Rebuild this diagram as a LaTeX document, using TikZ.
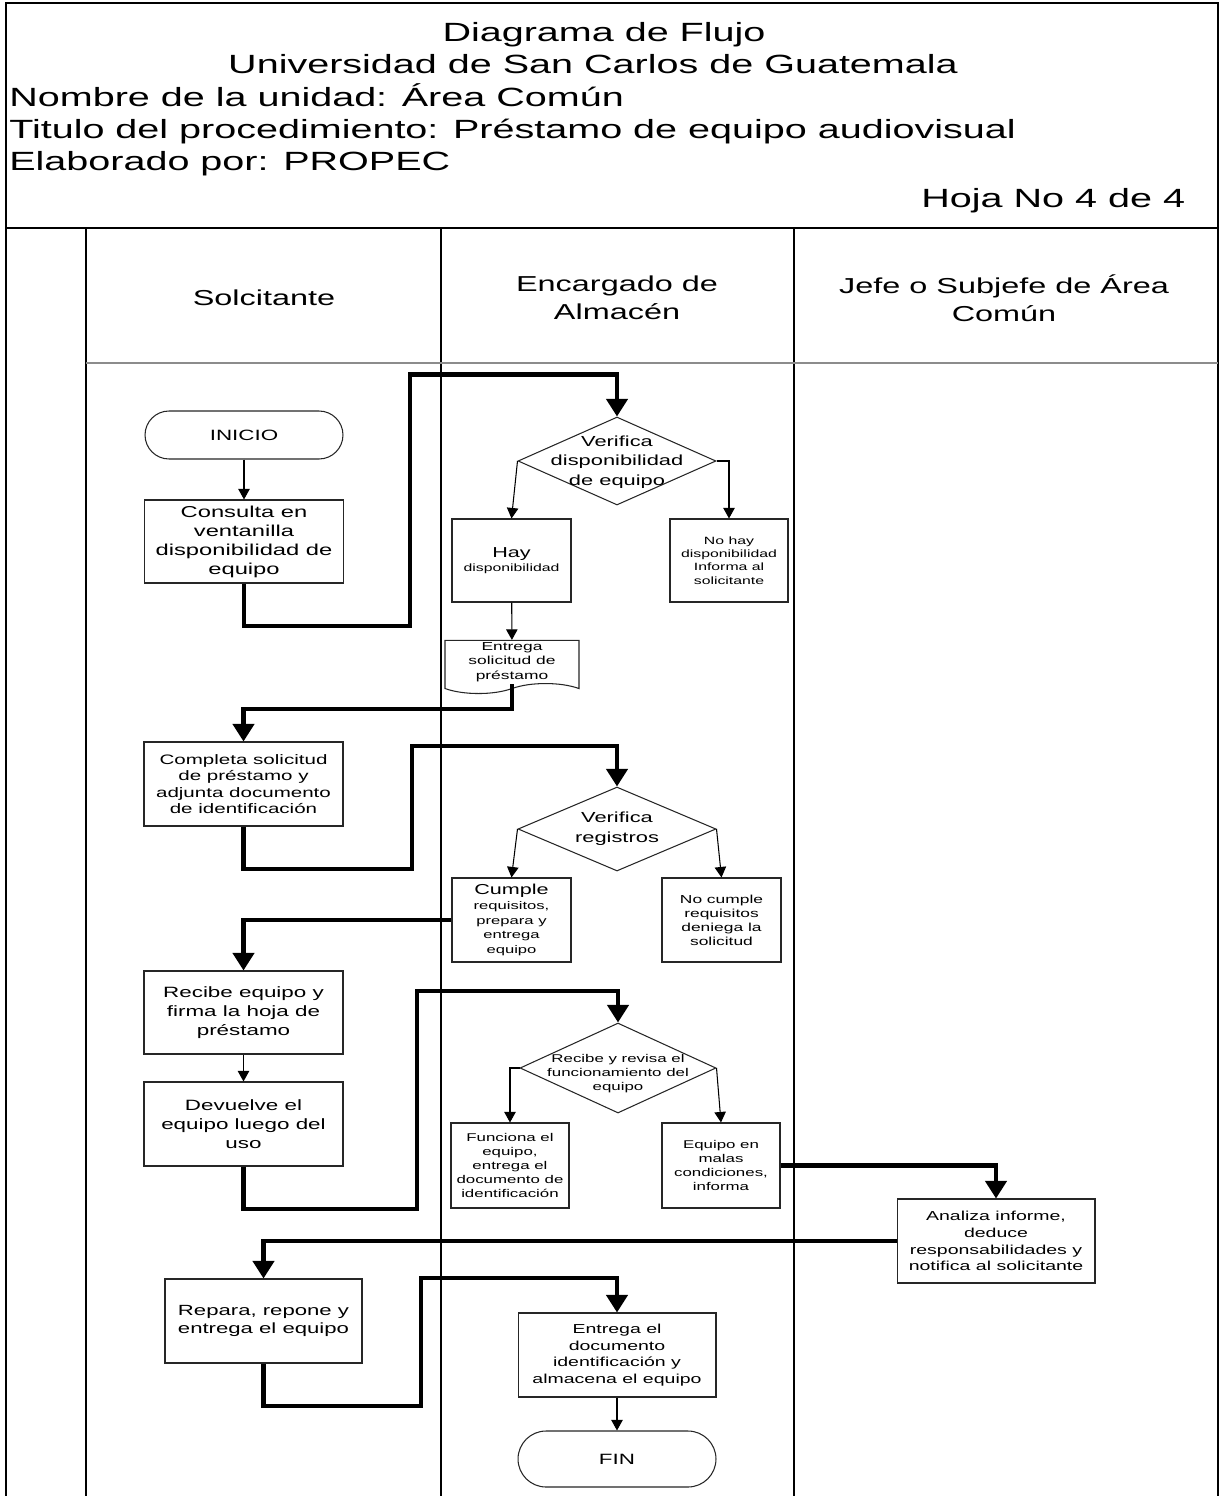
\documentclass[tikz,border=0pt]{standalone}
\usepackage{fontspec}
\setmainfont{Liberation Sans}[FakeStretch=1.5]
\usepackage{tikz}
\usetikzlibrary{shapes.geometric, shapes.symbols, arrows.meta}
\newcommand{\setfs}[2]{\fontsize{#1}{#2}\selectfont}
\tikzstyle{procbox} = [rectangle, draw=black!85, line width=0.6pt, fill=white,
                       align=center, inner sep=1pt]
\tikzstyle{decision} = [diamond, draw=black!85, line width=0.6pt, fill=white, inner sep=0pt]
\tikzstyle{terminal} = [rectangle, draw=black!85, line width=0.6pt, fill=white, align=center]
\tikzstyle{docnode} = [tape, tape bend top=none, tape bend bottom=in and out,
                       tape bend height=0.2cm, draw=black!85, line width=0.6pt,
                       fill=white, align=center, inner sep=1pt]
\tikzstyle{thickflow} = [line width=2.3pt, -{Triangle[length=10pt, width=12pt]}]
\tikzstyle{thinflow} = [line width=0.6pt, -{Triangle[length=6pt, width=6.5pt]}]
\tikzstyle{lane} = [line width=0.9pt]

\begin{document}
\begin{tikzpicture}[x=0.02cm, y=-0.02cm]
  \useasboundingbox (0,0) rectangle (1220,1496);
  % frame and swimlanes
  \draw [lane] (6,1496) -- (6,3) -- (1218,3) -- (1218,1496);
  \draw [lane] (6,228) -- (1218,228);
  \draw [lane] (86,228) -- (86,1496);
  \draw [lane] (441,228) -- (441,1496);
  \draw [lane] (794,228) -- (794,1496);
  \draw [line width=1.2pt, black!45] (86,363) -- (1218,363);

  % header
  \node (title) [anchor=base, font=\setfs{15}{18}] at (604,42) {Diagrama de Flujo};
  \node (univ) [anchor=base, font=\setfs{15}{18}] at (593,74) {Universidad de San Carlos de Guatemala};
  \node (unidad) [anchor=base west, inner sep=0pt, font=\setfs{15}{18}] at (9,107) {Nombre de la unidad: Área Común};
  \node (proc) [anchor=base west, inner sep=0pt, font=\setfs{15}{18}] at (9,139) {Titulo del procedimiento: Préstamo de equipo audiovisual};
  \node (autor) [anchor=base west, inner sep=0pt, font=\setfs{15}{18}] at (9,171) {Elaborado por: PROPEC};
  \node (hoja) [anchor=base west, inner sep=0pt, font=\setfs{15}{18}] at (921,208) {Hoja No 4 de 4};

  \node (lane1) [font=\setfs{12.3}{15.8}, align=center] at (264,298) {Solcitante};
  \node (lane2) [font=\setfs{12.3}{15.8}, align=center] at (617,298) {Encargado de\\Almacén};
  \node (lane3) [font=\setfs{12.3}{15.8}, align=center] at (1004,298) {Jefe o Subjefe de Área\\Común};

  % Solicitante / Almacen: disponibilidad
  \node (inicio) [terminal, rounded corners=0.48cm, minimum width=3.96cm, minimum height=0.96cm,
                  font=\setfs{8.5}{10}] at (244,435) {INICIO};
  \node (consulta) [procbox, minimum width=3.98cm, minimum height=1.66cm, font=\setfs{9}{10.8}]
        at (244,541.5) {Consulta en\\ventanilla\\disponibilidad de\\equipo};
  \node (verdisp) [decision, minimum width=3.96cm, minimum height=1.76cm] at (617,461) {};
  \node (verdisptxt) [align=center, font=\setfs{8.3}{11.2}] at (617,462) {Verifica\\disponibilidad\\de equipo};
  \node (hay) [procbox, minimum width=2.38cm, minimum height=1.66cm, font=\setfs{6}{7.6}]
        at (511.5,560.5) {{\setfs{8.2}{11}Hay}\\disponibilidad};
  \node (nohay) [procbox, minimum width=2.36cm, minimum height=1.66cm, font=\setfs{6}{7.6}]
        at (729,560.5) {No hay\\disponibilidad\\Informa al\\solicitante};
  \node (soldoc) [docnode, minimum width=2.68cm, minimum height=1.04cm, font=\setfs{6.6}{8.3}]
        at (512,662) {Entrega\\solicitud de\\préstamo};

  % registros
  \node (completa) [procbox, minimum width=3.98cm, minimum height=1.68cm, font=\setfs{7.8}{9.4}]
        at (243.5,784) {Completa solicitud\\de préstamo y\\adjunta documento\\de identificación};
  \node (verreg) [decision, minimum width=3.96cm, minimum height=1.68cm] at (617,829) {};
  \node (verregtxt) [align=center, font=\setfs{8.3}{11.2}] at (617,829) {Verifica\\registros};
  \node (cumple) [procbox, minimum width=2.38cm, minimum height=1.68cm, font=\setfs{6.3}{8.4}]
        at (511.5,920) {{\setfs{8.2}{9.6}Cumple}\\requisitos,\\prepara y\\entrega\\equipo};
  \node (nocumple) [procbox, minimum width=2.38cm, minimum height=1.68cm, font=\setfs{6.6}{8}]
        at (721.5,920) {No cumple\\requisitos\\deniega la\\solicitud};

  % prestamo y devolucion
  \node (recibe) [procbox, minimum width=3.98cm, minimum height=1.66cm, font=\setfs{8.5}{10.8}]
        at (243.5,1012.5) {Recibe equipo y\\firma la hoja de\\préstamo};
  \node (devuelve) [procbox, minimum width=3.98cm, minimum height=1.68cm, font=\setfs{8.5}{10.8}]
        at (243.5,1124) {Devuelve el\\equipo luego del\\uso};
  \node (revisa) [decision, minimum width=3.92cm, minimum height=1.8cm] at (618,1068) {};
  \node (revisatxt) [align=center, font=\setfs{6.4}{8}] at (618,1074) {Recibe y revisa el\\funcionamiento del\\equipo};
  \node (funciona) [procbox, minimum width=2.36cm, minimum height=1.7cm, font=\setfs{6.4}{8.1}]
        at (510,1165.5) {Funciona el\\equipo,\\entrega el\\documento de\\identificación};
  \node (malas) [procbox, minimum width=2.36cm, minimum height=1.7cm, font=\setfs{6.4}{8.1}]
        at (721,1165.5) {Equipo en\\malas\\condiciones,\\informa};
  \node (analiza) [procbox, minimum width=3.96cm, minimum height=1.68cm, font=\setfs{7.4}{9.5}]
        at (996,1241) {Analiza informe,\\deduce\\responsabilidades y\\notifica al solicitante};
  \node (repara) [procbox, minimum width=3.94cm, minimum height=1.68cm, font=\setfs{8.4}{10.4}]
        at (263.5,1321) {Repara, repone y\\entrega el equipo};
  \node (entrega) [procbox, minimum width=3.96cm, minimum height=1.68cm, font=\setfs{7.4}{9.4}]
        at (617,1355) {Entrega el\\documento\\identificación y\\almacena el equipo};
  \node (fin) [terminal, rounded corners=0.56cm, minimum width=3.96cm, minimum height=1.12cm,
               font=\setfs{8.5}{10}] at (617,1459) {FIN};

  % flow
  \draw [thinflow] (inicio) -- (consulta);
  \draw [thickflow] (consulta.south) -- ++(0,42) -- ++(166,0) -- ++(0,-251) -| (verdisp.north);
  \draw [thinflow] (verdisp.west) -- (hay.north);
  \draw [thinflow] (verdisp.east) -| (nohay.north);
  \draw [thinflow] (hay) -- (soldoc);
  \draw [thickflow] (soldoc.south) -- ++(0,25) -| (completa.north);
  \draw [thickflow] (completa.south) -- ++(0,42) -- ++(168.5,0) -- ++(0,-123) -| (verreg.north);
  \draw [thinflow] (verreg.west) -- (cumple.north);
  \draw [thinflow] (verreg.east) -- (nocumple.north);
  \draw [thickflow] (cumple.west) -| (recibe.north);
  \draw [thinflow] (recibe) -- (devuelve);
  \draw [thickflow] (devuelve.south) -- ++(0,42) -- ++(173.5,0) -- ++(0,-218) -| (revisa.north);
  \draw [thinflow] (revisa.west) -| (funciona.north);
  \draw [thinflow] (revisa.east) -- (malas.north);
  \draw [thickflow] (malas.east) -| (analiza.north);
  \draw [thickflow] (analiza.west) -| (repara.north);
  \draw [thickflow] (repara.south) -- ++(0,42) -- ++(157.5,0) -- ++(0,-128) -| (entrega.north);
  \draw [thinflow] (entrega) -- (fin);
\end{tikzpicture}
\end{document}
